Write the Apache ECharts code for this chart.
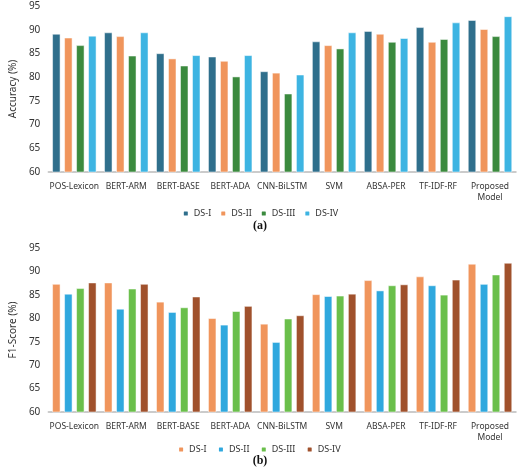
<!DOCTYPE html>
<html>
<head>
<meta charset="utf-8">
<script src="https://cdn.jsdelivr.net/npm/echarts@6/dist/echarts.min.js"></script>
<style>
  html, body { margin: 0; padding: 0; background: #fff; }
  #chart { width: 520px; height: 471px; }
</style>
</head>
<body>
<div id="chart"></div>
<script>
var models = ['POS-Lexicon', 'BERT-ARM', 'BERT-BASE', 'BERT-ADA', 'CNN-BiLSTM', 'SVM', 'ABSA-PER', 'TF-IDF-RF', 'Proposed\nModel'];
var dsNames = ['DS-I', 'DS-II', 'DS-III', 'DS-IV'];

// (a) accuracy
var accDS1 = [89.1, 89.4, 85.0, 84.3, 81.2, 87.5, 89.7, 90.5, 92.0];
var accDS2 = [88.3, 88.6, 83.9, 83.4, 80.9, 86.7, 89.1, 87.4, 90.1];
var accDS3 = [86.7, 84.5, 82.4, 80.1, 76.5, 86.0, 87.4, 88.0, 88.6];
var accDS4 = [88.7, 89.4, 84.6, 84.6, 80.5, 89.4, 88.2, 91.5, 92.8];

// (b) f1-score
var f1DS1 = [87.3, 87.6, 83.5, 80.0, 78.8, 85.1, 88.1, 88.9, 91.6];
var f1DS2 = [85.2, 82.0, 81.3, 78.6, 74.9, 84.7, 85.9, 87.0, 87.3];
var f1DS3 = [86.4, 86.3, 82.3, 81.5, 79.9, 84.8, 87.0, 85.0, 89.3];
var f1DS4 = [87.6, 87.3, 84.6, 82.6, 80.6, 85.2, 87.2, 88.2, 91.8];

var colorsA = ['#2f6f8c', '#f0955c', '#3b8a3e', '#3db4e2'];
var colorsB = ['#f0955c', '#2fa8de', '#6abf4b', '#a0512c'];

var myChart = echarts.init(document.getElementById('chart'));

var axisX = function(idx){
  return {
    type: 'category', gridIndex: idx, data: models,
    axisTick: { show: false },
    axisLine: { lineStyle: { color: '#bbb', width: 1.5 } },
    axisLabel: { color: '#333', fontSize: 8.5, interval: 0, fontFamily: 'Noto Sans', lineHeight: 11, margin: 9 }
  };
};
var axisY = function(idx, name){
  return {
    type: 'value', gridIndex: idx, min: 60, max: 95, interval: 5,
    name: name, nameLocation: 'middle', nameGap: 26,
    nameTextStyle: { color: '#333', fontSize: 10, fontFamily: 'Noto Sans' },
    splitLine: { show: false },
    axisLabel: { color: '#333', fontSize: 10, fontFamily: 'Noto Sans' }
  };
};

var makeSeries = function(dataList, colors, idx){
  var out = [];
  for (var i = 0; i < dataList.length; i++) {
    out.push({
      name: dsNames[i], type: 'bar', xAxisIndex: idx, yAxisIndex: idx,
      data: dataList[i], barWidth: 8, barGap: '50%', barCategoryGap: '22%',
      itemStyle: { color: colors[i], borderColor: '#fff', borderWidth: 0.5 }
    });
  }
  return out;
};

var option = {
  animation: false,
  grid: [
    { left: 40, right: 4, top: 6, height: 166 },
    { left: 40, right: 4, top: 248, height: 164 }
  ],
  xAxis: [axisX(0), axisX(1)],
  yAxis: [axisY(0, 'Accuracy (%)'), axisY(1, 'F1-Score (%)')],
  legend: [
    {
      top: 204, left: 'center', itemWidth: 6, itemHeight: 6, itemGap: 8,
      data: dsNames.map(function(n, i){ return { name: n, itemStyle: { color: colorsA[i] } }; }),
      textStyle: { fontSize: 9, color: '#333', fontFamily: 'Noto Sans' }
    },
    {
      top: 440, left: 'center', itemWidth: 6, itemHeight: 6, itemGap: 8,
      data: dsNames.map(function(n, i){ return { name: n + ' ', itemStyle: { color: colorsB[i] } }; }),
      textStyle: { fontSize: 9, color: '#333', fontFamily: 'Noto Sans' }
    }
  ],
  graphic: [
    { type: 'text', left: 'center', top: 220, style: { text: '(a)', font: 'bold 12px "Liberation Serif"', fill: '#111' } },
    { type: 'text', left: 'center', top: 455, style: { text: '(b)', font: 'bold 12px "Liberation Serif"', fill: '#111' } }
  ],
  series: makeSeries([accDS1, accDS2, accDS3, accDS4], colorsA, 0)
    .concat(makeSeries([f1DS1, f1DS2, f1DS3, f1DS4], colorsB, 1).map(function(s, i){
      s.name = dsNames[i] + ' ';
      return s;
    }))
};

myChart.setOption(option);
</script>
</body>
</html>
